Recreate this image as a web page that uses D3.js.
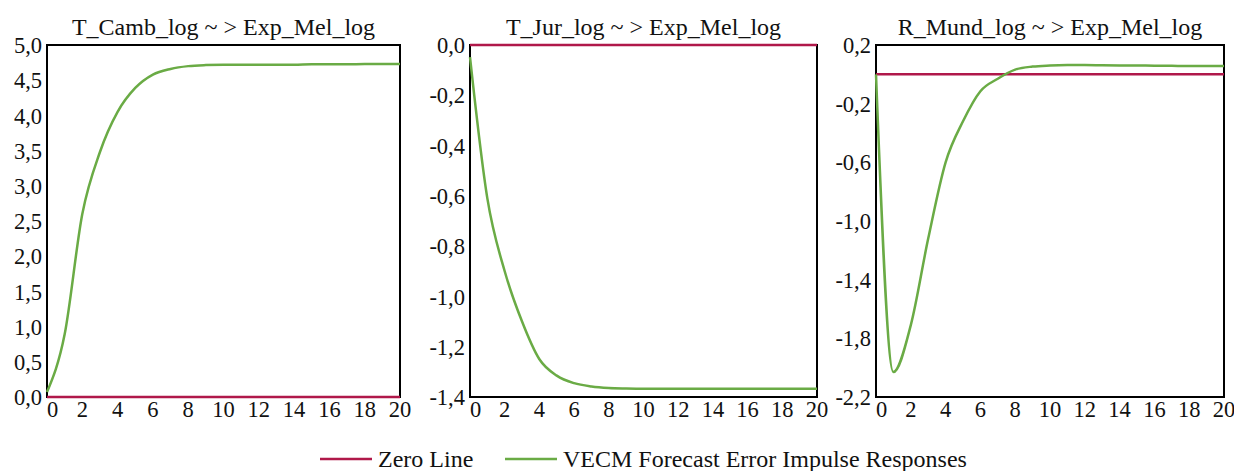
<!DOCTYPE html>
<html>
<head>
<meta charset="utf-8">
<script src="https://cdn.jsdelivr.net/npm/d3@7"></script>
<style>
	body { margin: 0; background: #fff; }
</style>
</head>
<body>
<div id="chart"></div>
<script>
const periods = [0, 1, 2, 3, 4, 5, 6, 7, 8, 9, 10, 11, 12, 13, 14, 15, 16, 17, 18, 19, 20];
const xTicks = [0, 2, 4, 6, 8, 10, 12, 14, 16, 18, 20];

const titles = ["T_Camb_log ~ > Exp_Mel_log", "T_Jur_log ~ > Exp_Mel_log", "R_Mund_log ~ > Exp_Mel_log"];

// impulse responses
const cambResp = [0.07, 0.89, 2.60, 3.48, 4.05, 4.39, 4.58, 4.66, 4.70, 4.715, 4.72, 4.72, 4.72, 4.72, 4.72, 4.725, 4.725, 4.725, 4.73, 4.73, 4.73];
const jurResp = [-0.048, -0.61, -0.90, -1.10, -1.25, -1.315, -1.345, -1.358, -1.364, -1.366, -1.367, -1.367, -1.367, -1.367, -1.367, -1.367, -1.367, -1.367, -1.367, -1.367, -1.367];
const mundResp = [0, -2.03, -1.71, -1.12, -0.60, -0.32, -0.115, -0.03, 0.032, 0.053, 0.06, 0.063, 0.063, 0.062, 0.061, 0.060, 0.059, 0.058, 0.057, 0.057, 0.056];

const yTicksCamb = [0, 0.5, 1, 1.5, 2, 2.5, 3, 3.5, 4, 4.5, 5];
const yTicksJur = [0, -0.2, -0.4, -0.6, -0.8, -1.0, -1.2, -1.4];
const yTicksMund = [0.2, -0.2, -0.6, -1.0, -1.4, -1.8, -2.2];

const legendLabels = ["Zero Line", "VECM Forecast Error Impulse Responses"];

const RED = "#b0184a";
const GREEN = "#6aab45";
const FONT = "'Liberation Serif', 'Times New Roman', Times, 'DejaVu Serif', serif";

const width = 1234;
const height = 471;

const svg = d3.select("#chart").append("svg")
	.attr("width", width)
	.attr("height", height)
	.attr("font-family", FONT)
	.style("font-family", FONT);

const fmt = (v) => d3.format(".1f")(v).replace("−", "-").replace(".", ",");

const panels = [
	{ left: 47, right: 400, title: titles[0], values: cambResp, domain: [0, 5], ticks: yTicksCamb },
	{ left: 470, right: 817, title: titles[1], values: jurResp, domain: [-1.4, 0], ticks: yTicksJur },
	{ left: 876, right: 1224, title: titles[2], values: mundResp, domain: [-2.2, 0.2], ticks: yTicksMund },
];
const plotTop = 45;
const plotBottom = 397;

panels.forEach((p) => {
	const x = d3.scaleLinear().domain([0, 20]).range([p.left, p.right]);
	const y = d3.scaleLinear().domain(p.domain).range([plotBottom, plotTop]);
	const g = svg.append("g");

	// title
	g.append("text")
		.attr("x", (p.left + p.right) / 2)
		.attr("y", 35)
		.attr("text-anchor", "middle")
		.attr("font-size", 24)
		.attr("fill", "#111")
		.text(p.title);

	// y tick labels
	g.selectAll(".ylab").data(p.ticks).enter()
		.append("text")
		.attr("class", "ylab")
		.attr("x", p.left - 5)
		.attr("y", (d) => y(d))
		.attr("dy", "0.36em")
		.attr("text-anchor", "end")
		.attr("font-size", 22.5)
		.attr("fill", "#111")
		.text(fmt);

	// x tick labels
	g.selectAll(".xlab").data(xTicks).enter()
		.append("text")
		.attr("class", "xlab")
		.attr("x", (d) => x(d))
		.attr("y", plotBottom + 20)
		.attr("text-anchor", (d, i) => i === 0 ? "start" : "middle")
		.attr("font-size", 22.5)
		.attr("fill", "#111")
		.text((d) => d);

	// frame
	g.append("rect")
		.attr("x", p.left)
		.attr("y", plotTop)
		.attr("width", p.right - p.left)
		.attr("height", plotBottom - plotTop)
		.attr("fill", "none")
		.attr("stroke", "#000")
		.attr("stroke-width", 2);

	// zero line
	g.append("line")
		.attr("x1", x(0))
		.attr("x2", x(20))
		.attr("y1", y(0))
		.attr("y2", y(0))
		.attr("stroke", RED)
		.attr("stroke-width", 2.5);

	// response
	const line = d3.line()
		.x((d, i) => x(periods[i]))
		.y((d) => y(d))
		.curve(d3.curveMonotoneX);

	g.append("path")
		.datum(p.values)
		.attr("fill", "none")
		.attr("stroke", GREEN)
		.attr("stroke-width", 2.5)
		.attr("stroke-linejoin", "round")
		.attr("d", line);
});

// legend
const legend = svg.append("g").attr("transform", "translate(0, 459)");
const legendItems = [
	{ x: 320, color: RED, label: legendLabels[0] },
	{ x: 505, color: GREEN, label: legendLabels[1] },
];
legendItems.forEach((it) => {
	legend.append("line")
		.attr("x1", it.x)
		.attr("x2", it.x + 52)
		.attr("y1", 0)
		.attr("y2", 0)
		.attr("stroke", it.color)
		.attr("stroke-width", 2.5);
	legend.append("text")
		.attr("x", it.x + 58)
		.attr("y", 0)
		.attr("dy", "0.35em")
		.attr("font-size", 24)
		.attr("fill", "#111")
		.text(it.label);
});
</script>
</body>
</html>
